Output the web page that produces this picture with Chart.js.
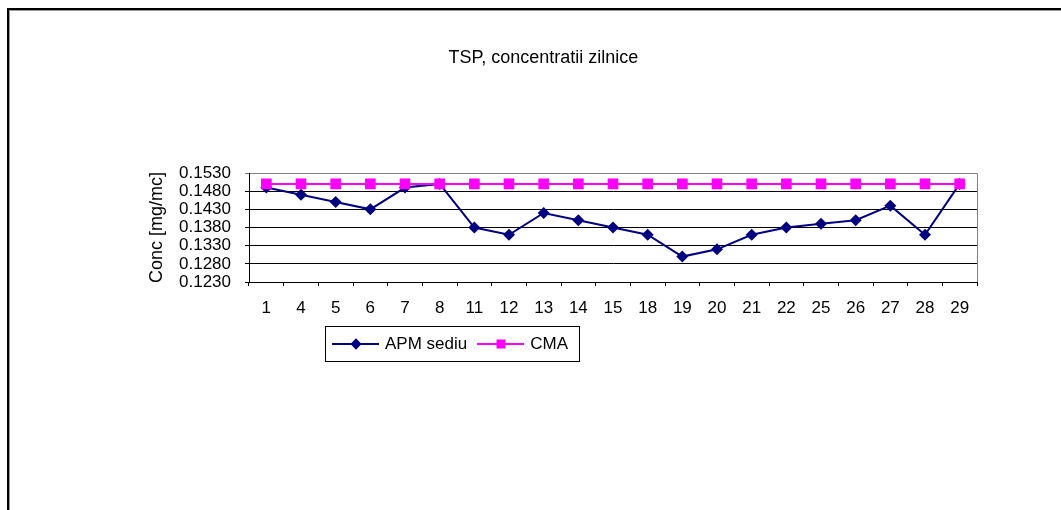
<!DOCTYPE html>
<html>
<head>
<meta charset="utf-8">
<script src="https://cdn.jsdelivr.net/npm/chart.js@4.4.0/dist/chart.umd.min.js"></script>
<style>
    body { margin: 0; background: #fff; font-family: "Liberation Sans", Arial, sans-serif; }
    #wrap { position: relative; width: 1061px; height: 510px; overflow: hidden; }
    #frame {
        position: absolute; left: 7px; top: 8px; width: 2000px; height: 2000px;
        border-top: 2px solid #000; border-left: 2px solid #000;
        box-shadow: inset 1px 1px 0 #999;
    }
    #stats-chart { position: absolute; left: 0; top: 0; }
    #title {
        position: absolute; left: 0; width: 1087px; top: 46px;
        text-align: center; font-size: 18px; line-height: 22px; color: #000;
    }
    #legend {
        position: absolute; left: 325px; top: 326px; width: 253px; height: 34px;
        border: 1px solid #000; display: flex; align-items: center;
        font-size: 17px; color: #000;
    }
    .item { display: flex; align-items: center; }
    .line { position: relative; display: inline-block; width: 47px; height: 2px; margin: 0 6px 0 6px; }
    .mark { position: absolute; left: 50%; top: 50%; }
    .diamond { width: 8px; height: 8px; background: #000080; transform: translate(-50%, -50%) rotate(45deg); }
    .square { width: 9px; height: 9px; background: #ff00ff; transform: translate(-50%, -50%); }
</style>
</head>
<body>
<div id="wrap">
    <div id="frame"></div>
    <canvas id="stats-chart" width="1061" height="510"></canvas>
    <div id="title">TSP, concentratii zilnice</div>
    <div id="legend">
        <span class="item"><span class="line" style="background:#000080"><span class="mark diamond"></span></span>APM sediu</span>
        <span class="item" style="margin-left:4px"><span class="line" style="background:#ff00ff"><span class="mark square"></span></span>CMA</span>
    </div>
</div>
<script>
// Days of the month with measurements
const categories = ["1", "4", "5", "6", "7", "8", "11", "12", "13", "14", "15",
    "18", "19", "20", "21", "22", "25", "26", "27", "28", "29"];

// Daily concentrations, mg/mc
const apmSediu = [0.149, 0.147, 0.145, 0.143, 0.149, 0.150, 0.138, 0.136, 0.142, 0.140, 0.138,
    0.136, 0.130, 0.132, 0.136, 0.138, 0.139, 0.140, 0.144, 0.136, 0.150];

// Limit value (CMA)
const cma = [0.150, 0.150, 0.150, 0.150, 0.150, 0.150, 0.150, 0.150, 0.150, 0.150, 0.150,
    0.150, 0.150, 0.150, 0.150, 0.150, 0.150, 0.150, 0.150, 0.150, 0.150];

// Y axis ticks
const yTicks = [0.123, 0.128, 0.133, 0.138, 0.143, 0.148, 0.153];

const FONT = "'Liberation Sans', Arial, sans-serif";

// grey border on top and right side of plot area
const plotBorder = {
    id: "plotBorder",
    beforeDraw(chart) {
        const a = chart.chartArea;
        const ctx = chart.ctx;
        ctx.save();
        ctx.strokeStyle = "#808080";
        ctx.lineWidth = 1;
        ctx.beginPath();
        ctx.moveTo(a.left, a.top + 0.5);
        ctx.lineTo(a.right + 0.5, a.top + 0.5);
        ctx.lineTo(a.right + 0.5, a.bottom);
        ctx.stroke();
        ctx.restore();
    }
};

const ctx = document.getElementById("stats-chart").getContext("2d");

new Chart(ctx, {
    type: "line",
    data: {
        labels: categories,
        datasets: [
            {
                label: "APM sediu",
                data: apmSediu,
                borderColor: "#000080",
                backgroundColor: "#000080",
                borderWidth: 2,
                pointStyle: "rectRot",
                pointRadius: 6,
                pointBorderWidth: 0,
                tension: 0,
                order: 1,
            },
            {
                label: "CMA",
                data: cma,
                borderColor: "#ff00ff",
                backgroundColor: "#ff00ff",
                borderWidth: 2,
                pointStyle: "rect",
                pointRadius: 7.5,
                pointBorderWidth: 0,
                tension: 0,
                order: 0,
            },
        ],
    },
    options: {
        responsive: false,
        animation: false,
        layout: {
            padding: { left: 145, right: 84, top: 173, bottom: 0 },
        },
        plugins: {
            legend: { display: false },
            title: { display: false },
            tooltip: { enabled: false },
        },
        scales: {
            x: {
                offset: true,
                afterFit(scale) { scale.height = 228; },
                grid: {
                    offset: true,
                    drawOnChartArea: false,
                    tickLength: 4,
                    color: "#000",
                },
                border: { color: "#000", width: 1 },
                ticks: {
                    color: "#000",
                    font: { family: FONT, size: 17 },
                    padding: 12,
                    maxRotation: 0,
                    autoSkip: false,
                },
            },
            y: {
                min: 0.123,
                max: 0.153,
                afterFit(scale) { scale.width = 104; },
                afterBuildTicks(scale) {
                    scale.ticks = yTicks.map(v => ({ value: v }));
                },
                grid: {
                    tickLength: 4,
                    color: (c) => (c.index === yTicks.length - 1 ? "#808080" : "#000"),
                },
                border: { color: "#000", width: 1 },
                ticks: {
                    color: "#000",
                    font: { family: FONT, size: 17 },
                    padding: 14,
                    autoSkip: false,
                    callback: (v) => Number(v).toFixed(4),
                },
                title: {
                    display: true,
                    text: "Conc [mg/mc]",
                    color: "#000",
                    font: { family: FONT, size: 18 },
                    padding: { top: 1, bottom: 0 },
                },
            },
        },
    },
    plugins: [plotBorder],
});
</script>
</body>
</html>
